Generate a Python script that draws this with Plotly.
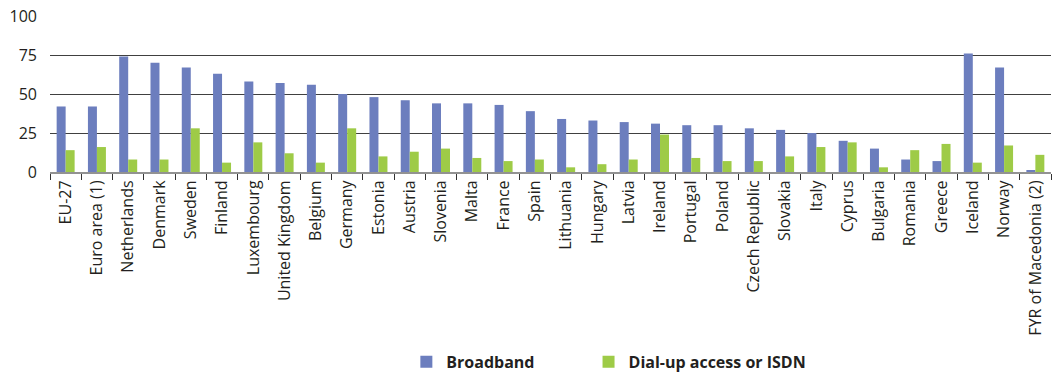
import plotly.graph_objects as go

countries = [
    "EU-27", "Euro area (1)", "Netherlands", "Denmark", "Sweden", "Finland",
    "Luxembourg", "United Kingdom", "Belgium", "Germany", "Estonia", "Austria",
    "Slovenia", "Malta", "France", "Spain", "Lithuania", "Hungary", "Latvia",
    "Ireland", "Portugal", "Poland", "Czech Republic", "Slovakia", "Italy",
    "Cyprus", "Bulgaria", "Romania", "Greece", "Iceland", "Norway",
    "FYR of Macedonia (2)",
]
broadband = [42, 42, 74, 70, 67, 63, 58, 57, 56, 50, 48, 46, 44, 44, 43, 39,
             34, 33, 32, 31, 30, 30, 28, 27, 25, 20, 15, 8, 7, 76, 67, 1]
dialup = [14, 16, 8, 8, 28, 6, 19, 12, 6, 28, 10, 13, 15, 9, 7, 8,
          3, 5, 8, 24, 9, 7, 7, 10, 16, 19, 3, 14, 18, 6, 17, 11]
y_ticks = [0, 25, 50, 75, 100]

BLUE = "#6c7ebe"
GREEN = "#9ecb47"
TEXT = "#231f20"
FONT = "Open Sans"

fig = go.Figure()
fig.add_trace(go.Bar(x=countries, y=broadband, name="Broadband",
                     marker=dict(color=BLUE, line=dict(width=0)),
                     legend="legend"))
fig.add_trace(go.Bar(x=countries, y=dialup, name="Dial-up access or ISDN",
                     marker=dict(color=GREEN, line=dict(width=0)),
                     legend="legend2"))

legend_style = dict(
    orientation="h", xanchor="left", yref="container", y=0.035,
    yanchor="middle",
    font=dict(family=FONT, size=16, color=TEXT, weight="bold"),
    itemclick=False, bgcolor="rgba(0,0,0,0)",
)

fig.update_layout(
    width=1052, height=375,
    margin=dict(l=50, r=1, t=16, b=203, autoexpand=False),
    paper_bgcolor="white", plot_bgcolor="white",
    barmode="group", bargap=0.425, bargroupgap=0,
    font=dict(family=FONT, size=16, color=TEXT),
    showlegend=True,
    legend=dict(x=0.356, **legend_style),
    legend2=dict(x=0.538, **legend_style),
)
fig.update_xaxes(
    type="category", tickangle=-90, tickson="boundaries",
    ticks="outside", ticklen=6, tickcolor="#333333", tickwidth=1,
    showline=True, linecolor="rgba(110,110,110,0.75)", linewidth=2,
    showgrid=False, tickfont=dict(family=FONT, size=16, color=TEXT),
)
fig.update_yaxes(
    range=[0, 100], tickvals=y_ticks, ticktext=[str(v) for v in y_ticks],
    showgrid=True, gridcolor="#404040", gridwidth=1,
    zeroline=False, showline=False, ticks="",
    ticklabelstandoff=12, tickfont=dict(family=FONT, size=16, color=TEXT),
)

fig.write_html("out.html")
